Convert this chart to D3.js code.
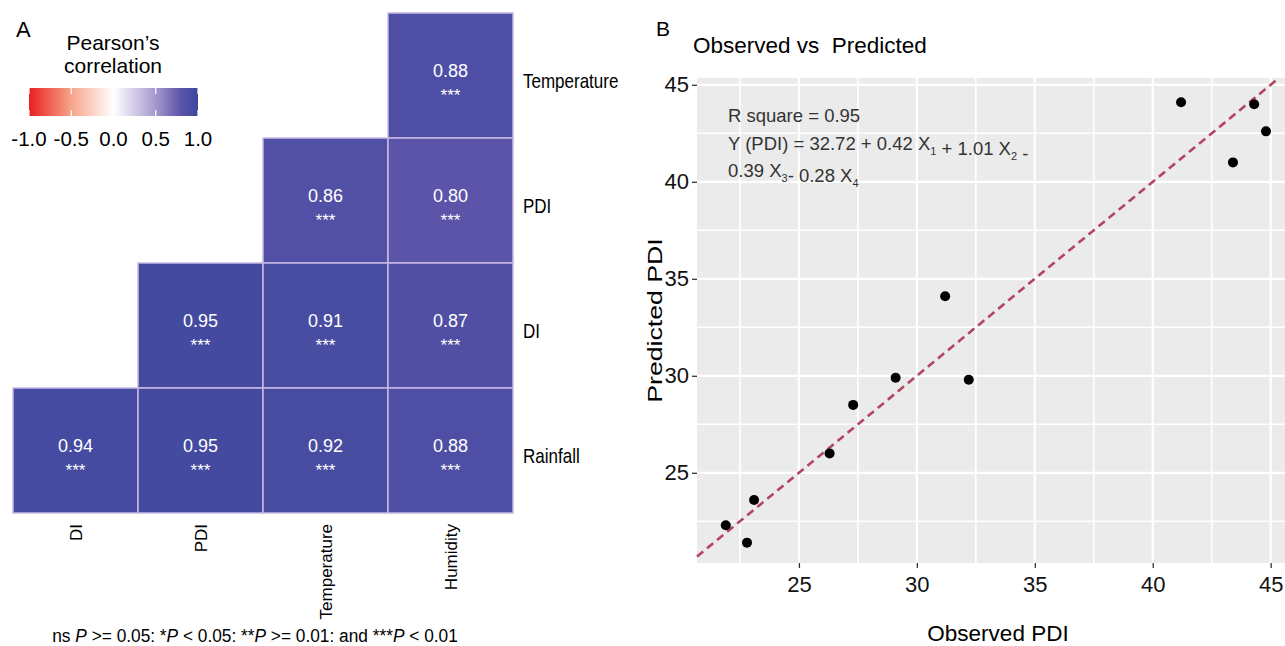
<!DOCTYPE html>
<meta charset="utf-8">
<style>
body { margin: 0; background: #fff; }
text { font-family: "Liberation Sans", Arial, sans-serif; }
</style>
<body>
<script src="https://d3js.org/d3.v7.min.js"></script>
<script>

// ---- data: correlation matrix (panel A)
var corrRows = ["Temperature", "PDI", "DI", "Rainfall"];
var corrCols = ["DI", "PDI", "Temperature", "Humidity"];
var corrValues = [
  [null, null, null, 0.88],
  [null, null, 0.86, 0.80],
  [null, 0.95, 0.91, 0.87],
  [0.94, 0.95, 0.92, 0.88]
];
var corrStars = "***";
var legendTicks = [-1.0, -0.5, 0.0, 0.5, 1.0];

// ---- data: observed vs predicted (panel B)
var observedPDI  = [21.9, 22.8, 23.1, 26.3, 27.3, 29.1, 31.2, 32.2, 41.2, 43.4, 44.3, 44.8];
var predictedPDI = [22.3, 21.4, 23.6, 26.0, 28.5, 29.9, 34.1, 29.8, 44.1, 41.0, 44.0, 42.6];
var axisTicks = [25, 30, 35, 40, 45];
var minorTicks = [22.5, 27.5, 32.5, 37.5, 42.5];

var W = 1285, H = 646;
var svg = d3.select("body").append("svg")
    .attr("width", W)
    .attr("height", H);

// colour scale for correlations (red - white - purple/blue)
var corrColor = d3.scaleLinear()
    .domain([-1, -0.5, 0, 0.5, 0.8, 1])
    .range(["#e8211f", "#f6a488", "#ffffff", "#a597cd", "#5c54a8", "#3a479d"]);

// ---------------- panel A ----------------
svg.append("text").attr("x", 16).attr("y", 37)
    .style("font-size", "22px").text("A");

var hx = d3.scaleBand().domain(corrCols).range([13, 513]);
var hy = d3.scaleBand().domain(corrRows).range([13, 513]);

var cells = [];
corrValues.forEach(function(row, i) {
  row.forEach(function(v, j) {
    if (v !== null) cells.push({row: corrRows[i], col: corrCols[j], v: v});
  });
});

var cellG = svg.append("g");
cellG.selectAll("rect").data(cells).enter().append("rect")
    .attr("x", function(d) { return hx(d.col); })
    .attr("y", function(d) { return hy(d.row); })
    .attr("width", hx.bandwidth())
    .attr("height", hy.bandwidth())
    .attr("fill", function(d) { return corrColor(d.v); })
    .attr("stroke", "#c9b8e4")
    .attr("stroke-width", 1.5);

cellG.selectAll("text.val").data(cells).enter().append("text")
    .attr("class", "val")
    .attr("x", function(d) { return hx(d.col) + hx.bandwidth() / 2; })
    .attr("y", function(d) { return hy(d.row) + hy.bandwidth() / 2 + 1; })
    .attr("text-anchor", "middle")
    .attr("fill", "#fff")
    .style("font-size", "18px")
    .text(function(d) { return d3.format(".2f")(d.v); });

cellG.selectAll("text.star").data(cells).enter().append("text")
    .attr("class", "star")
    .attr("x", function(d) { return hx(d.col) + hx.bandwidth() / 2; })
    .attr("y", function(d) { return hy(d.row) + hy.bandwidth() / 2 + 25; })
    .attr("text-anchor", "middle")
    .attr("fill", "#fff")
    .style("font-size", "17px")
    .text(corrStars);

// row labels (right), condensed like the original
svg.append("g").selectAll("text").data(corrRows).enter().append("text")
    .attr("transform", function(d) {
      return "translate(523," + (hy(d) + hy.bandwidth() / 2 + 12) + ") scale(0.81,1)";
    })
    .style("font-size", "21px")
    .text(function(d) { return d; });

// column labels (bottom, rotated)
svg.append("g").selectAll("text").data(corrCols).enter().append("text")
    .attr("transform", function(d) {
      return "translate(" + (hx(d) + hx.bandwidth() / 2 + 6) + ",524) rotate(-90)";
    })
    .attr("text-anchor", "end")
    .style("font-size", "17px")
    .text(function(d) { return d; });

// legend
svg.append("text").attr("x", 113).attr("y", 50).attr("text-anchor", "middle")
    .style("font-size", "21px").text("Pearson\u2019s");
svg.append("text").attr("x", 113).attr("y", 73).attr("text-anchor", "middle")
    .style("font-size", "21px").text("correlation");

var lx = d3.scaleLinear().domain([-1, 1]).range([29, 198]);
var grad = svg.append("defs").append("linearGradient").attr("id", "corrGrad");
d3.range(0, 1.0001, 0.05).forEach(function(t) {
  grad.append("stop").attr("offset", t)
      .attr("stop-color", corrColor(-1 + 2 * t));
});
svg.append("rect")
    .attr("x", lx(-1)).attr("y", 88)
    .attr("width", lx(1) - lx(-1)).attr("height", 28)
    .attr("fill", "url(#corrGrad)");
legendTicks.forEach(function(t) {
  svg.append("line").attr("x1", lx(t)).attr("x2", lx(t)).attr("y1", 88).attr("y2", 94)
      .attr("stroke", "#fff").attr("stroke-width", 1.2);
  svg.append("line").attr("x1", lx(t)).attr("x2", lx(t)).attr("y1", 110).attr("y2", 116)
      .attr("stroke", "#fff").attr("stroke-width", 1.2);
});
svg.append("g").selectAll("text").data(legendTicks).enter().append("text")
    .attr("x", function(d) { return lx(d); })
    .attr("y", 146)
    .attr("text-anchor", "middle")
    .style("font-size", "20.5px")
    .text(function(d) { return d3.format(".1f")(d).replace("\u2212", "-"); });

// footnote
var foot = svg.append("text")
    .attr("transform", "translate(255,642) scale(0.91,1)")
    .attr("text-anchor", "middle")
    .style("font-size", "19px");
[["ns ", false], ["P", true], [" >= 0.05: *", false], ["P", true], [" < 0.05: **", false],
 ["P", true], [" >= 0.01: and ***", false], ["P", true], [" < 0.01", false]].forEach(function(p) {
  foot.append("tspan").style("font-style", p[1] ? "italic" : "normal").text(p[0]);
});

// ---------------- panel B ----------------
svg.append("text").attr("x", 656).attr("y", 36)
    .style("font-size", "21px").text("B");
svg.append("text").attr("x", 693).attr("y", 53)
    .style("font-size", "22.5px").style("white-space", "pre")
    .text("Observed vs  Predicted");

var x = d3.scaleLinear().domain([20.68, 46.2]).range([697, 1299]);
var y = d3.scaleLinear().domain([20.35, 45.35]).range([563, 78]);

var plot = svg.append("g");
plot.append("rect")
    .attr("x", x.range()[0]).attr("y", y.range()[1])
    .attr("width", x.range()[1] - x.range()[0])
    .attr("height", y.range()[0] - y.range()[1])
    .attr("fill", "#ebebeb");

// minor grid
minorTicks.forEach(function(t) {
  plot.append("line").attr("x1", x(t)).attr("x2", x(t)).attr("y1", y.range()[1]).attr("y2", y.range()[0])
      .attr("stroke", "#fff").attr("stroke-width", 1.6);
  plot.append("line").attr("y1", y(t)).attr("y2", y(t)).attr("x1", x.range()[0]).attr("x2", x.range()[1])
      .attr("stroke", "#fff").attr("stroke-width", 1.6);
});
// major grid
axisTicks.forEach(function(t) {
  plot.append("line").attr("x1", x(t)).attr("x2", x(t)).attr("y1", y.range()[1]).attr("y2", y.range()[0])
      .attr("stroke", "#fff").attr("stroke-width", 2.2);
  plot.append("line").attr("y1", y(t)).attr("y2", y(t)).attr("x1", x.range()[0]).attr("x2", x.range()[1])
      .attr("stroke", "#fff").attr("stroke-width", 2.2);
});

// axes
var xAxis = svg.append("g")
    .attr("transform", "translate(0," + y.range()[0] + ")")
    .call(d3.axisBottom(x).tickValues(axisTicks).tickSize(5).tickPadding(8));
var yAxis = svg.append("g")
    .attr("transform", "translate(" + x.range()[0] + ",0)")
    .call(d3.axisLeft(y).tickValues(axisTicks).tickSize(5).tickPadding(3));
[xAxis, yAxis].forEach(function(a) {
  a.select(".domain").remove();
  a.selectAll(".tick line").attr("stroke", "#333").attr("stroke-width", 1.3);
  a.selectAll(".tick text").attr("fill", "#111")
      .style("font-size", "22px").style("font-family", "'Liberation Sans', Arial, sans-serif");
});

// identity line
var lo = d3.max([x.domain()[0], y.domain()[0]]), hi = d3.min([x.domain()[1], y.domain()[1]]);
plot.append("line")
    .attr("x1", x(lo)).attr("y1", y(lo))
    .attr("x2", x(hi)).attr("y2", y(hi))
    .attr("stroke", "#b4455f")
    .attr("stroke-width", 2.6)
    .attr("stroke-dasharray", "8,5");

// points
plot.selectAll("circle").data(observedPDI).enter().append("circle")
    .attr("cx", function(d) { return x(d); })
    .attr("cy", function(d, i) { return y(predictedPDI[i]); })
    .attr("r", 5)
    .attr("fill", "#000");

// annotation
var ann = svg.append("g").attr("fill", "#333").style("font-size", "18.5px");
ann.append("text").attr("x", 728).attr("y", 122).text("R square = 0.95");
var l2 = ann.append("text").attr("x", 728).attr("y", 150);
var l3 = ann.append("text").attr("x", 728).attr("y", 177);
function addSub(t, parts) {
  parts.forEach(function(p) {
    if (p[1]) {
      t.append("tspan").attr("dy", 5).style("font-size", "11px").text(p[0]);
      t.append("tspan").attr("dy", -5).text("");
    } else {
      t.append("tspan").style("white-space", "pre").text(p[0]);
    }
  });
}
addSub(l2, [["Y (PDI) = 32.72 + 0.42 X", false], ["1", true], [" + 1.01 X", false], ["2", true], [" -", false]]);
addSub(l3, [["0.39 X", false], ["3", true], ["- 0.28 X", false], ["4", true]]);

// axis titles
svg.append("text").attr("x", 998).attr("y", 641).attr("text-anchor", "middle")
    .style("font-size", "22.5px").text("Observed PDI");
svg.append("text")
    .attr("transform", "translate(662," + ((y.range()[0] + y.range()[1]) / 2) + ") rotate(-90) scale(1.27,1)")
    .attr("text-anchor", "middle")
    .style("font-size", "21px").text("Predicted PDI");

</script>
</body>
